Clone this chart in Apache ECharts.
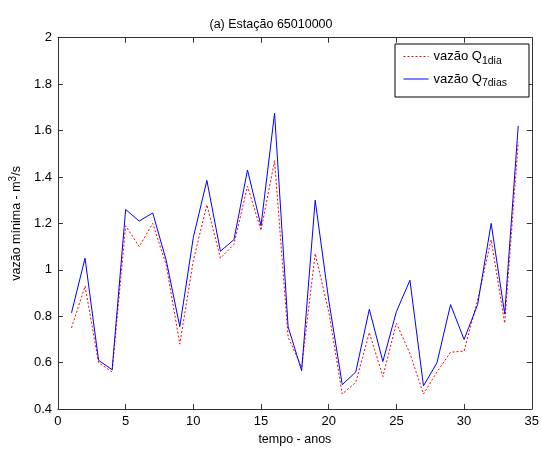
<!DOCTYPE html>
<html>
<head>
<meta charset="utf-8">
<script src="https://cdn.jsdelivr.net/npm/echarts@6/dist/echarts.min.js"></script>
<style>html,body{margin:0;padding:0;background:#fff}#c{width:542px;height:451px}</style>
</head>
<body>
<div id="c"></div>
<script>
var years = [1,2,3,4,5,6,7,8,9,10,11,12,13,14,15,16,17,18,19,20,21,22,23,24,25,26,27,28,29,30,31,32,33,34];
var q1dia = [0.75,0.93,0.60,0.56,1.19,1.10,1.20,1.02,0.68,1.04,1.28,1.05,1.11,1.36,1.17,1.47,0.71,0.58,1.07,0.82,0.465,0.515,0.73,0.54,0.77,0.64,0.465,0.56,0.645,0.65,0.87,1.13,0.77,1.55];
var q7dias = [0.815,1.05,0.61,0.57,1.26,1.21,1.245,1.04,0.755,1.14,1.385,1.08,1.13,1.43,1.19,1.675,0.755,0.565,1.30,0.87,0.505,0.56,0.83,0.605,0.82,0.955,0.50,0.60,0.85,0.70,0.85,1.20,0.81,1.62];
var xTicks = [0,5,10,15,20,25,30,35];
var yTicks = [0.4,0.6,0.8,1,1.2,1.4,1.6,1.8,2];

var font = 'Liberation Sans, Arial, sans-serif';
var chart = echarts.init(document.getElementById('c'));
function pairs(v){ return years.map(function(x,i){ return [x, v[i]]; }); }
var axisCommon = {
  axisLine:{show:true,onZero:false,lineStyle:{color:'#333',width:1}},
  axisTick:{show:true,inside:true,length:5,lineStyle:{color:'#333'}},
  splitLine:{show:false}
};
chart.setOption({
  animation:false,
  backgroundColor:'#fff',
  title:{text:'(a) Estação 65010000',left:'center',top:13,
    textStyle:{fontFamily:font,fontSize:12.5,fontWeight:'normal',color:'#000'}},
  grid:{left:57.7,right:6,top:37.7,bottom:37.5},
  legend:{
    left:395, top:44, orient:'vertical',
    backgroundColor:'#fff', borderColor:'#000', borderWidth:1,
    padding:[6,22,8,8], itemGap:6, itemWidth:25, itemHeight:10,
    itemStyle:{opacity:0},
    lineStyle:{width:1},
    textStyle:{fontFamily:font,fontSize:13,color:'#000',
      rich:{m:{fontFamily:font,fontSize:13,color:'#000'},
            s:{fontFamily:font,fontSize:10.5,color:'#000',padding:[9,0,0,0]}}},
    formatter:function(n){ return n==='q1'?'{m|vazão Q}{s|1dia}':'{m|vazão Q}{s|7dias}'; },
    data:['q1','q7']
  },
  xAxis:[
    Object.assign({type:'value',position:'bottom',min:0,max:35,interval:5,
      name:'tempo - anos',nameLocation:'middle',nameGap:23,
      nameTextStyle:{fontFamily:font,fontSize:12.5,color:'#000'},
      axisLabel:{fontFamily:font,fontSize:13,color:'#000',margin:6,
        formatter:function(v){return xTicks.indexOf(v)>=0?String(v):'';}}},axisCommon),
    Object.assign({type:'value',position:'top',min:0,max:35,interval:5,axisLabel:{show:false}},axisCommon)
  ],
  yAxis:[
    Object.assign({type:'value',position:'left',min:0.4,max:2,interval:0.2,
      name:'{a|vazão mínima - m}{b|3}{a|/s}',nameLocation:'middle',nameGap:29,
      nameTextStyle:{fontFamily:font,fontSize:12.5,color:'#000',
        rich:{a:{fontFamily:font,fontSize:12.5,color:'#000'},
              b:{fontFamily:font,fontSize:10,color:'#000',padding:[0,0,7,0]}}},
      axisLabel:{fontFamily:font,fontSize:13,color:'#000',margin:6,
        formatter:function(v){var r=Math.round(v*10)/10; return String(r);}}},axisCommon),
    Object.assign({type:'value',position:'right',min:0.4,max:2,interval:0.2,axisLabel:{show:false}},axisCommon)
  ],
  series:[
    {name:'q1',type:'line',data:pairs(q1dia),showSymbol:false,symbol:'none',
      lineStyle:{color:'#ff0000',width:1,type:[2,2]},itemStyle:{color:'#ff0000'}},
    {name:'q7',type:'line',data:pairs(q7dias),showSymbol:false,symbol:'none',
      lineStyle:{color:'#0000ff',width:1,type:'solid'},itemStyle:{color:'#0000ff'}}
  ]
});
</script>
</body>
</html>
